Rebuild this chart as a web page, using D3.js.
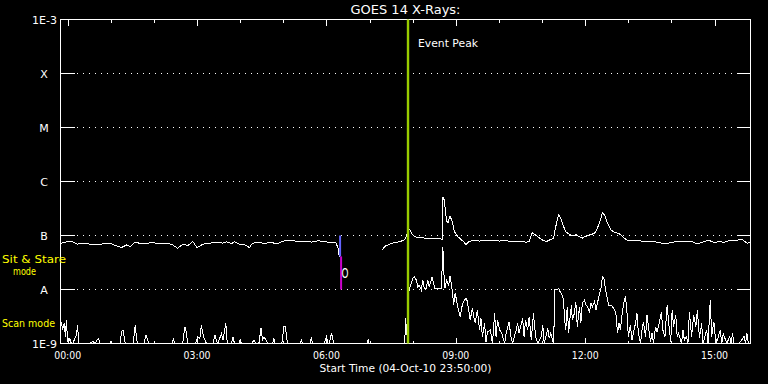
<!DOCTYPE html>
<html><head><meta charset="utf-8">
<script src="https://cdn.jsdelivr.net/npm/d3@7"></script>
<style>html,body{margin:0;padding:0;background:#000;overflow:hidden}svg{display:block}</style>
</head><body>
<svg id="chart" width="768" height="384"></svg>
<script>
// ---------------- data ----------------
const title = "GOES 14 X-Rays:";
const startTime = Date.UTC(2010, 9, 4, 23, 50);
const endTime = Date.UTC(2010, 9, 5, 15, 50);
const xLabel = "Start Time (04-Oct-10 23:50:00)";
const xTickLabels = ["00:00", "03:00", "06:00", "09:00", "12:00", "15:00"];
const yTickValues = [1e-9, 1e-8, 1e-7, 1e-6, 1e-5, 1e-4, 1e-3];
const yTickLabels = ["1E-9", "A", "B", "C", "M", "X", "1E-3"];
const modeLabels = ["Sit & Stare", "mode", "Scan mode"];
const eventLabel = "Event Peak";
const eventPeakMin = 483.5;            // minutes after start
const markMin = 389;                   // minutes after start
const markBlue = [1e-7, 4.1e-8];
const markMagenta = [4.1e-8, 1e-8];
const markLabel = "O";

// long channel (1-8 A): minutes after start, flux W/m^2 (null = gap)
const longT = [1,5,13,17,23,31,41,51,59,69,78,85,92,97,103,110,120,129,138,148,156,163,170,177,184,190,198,208,217,226,231,238,242,249,256,263,267,274,284,294,301,308,316,326,336,344,349,358,367,377,383,386,388,420,448,452,458,465,472,478,481,483,486,490,495,504,513,520,527,531,532,534,537,539,542,545,548,553,557,562,564,568,573,583,593,601,611,620,629,638,648,652,656,661,666,671,676,680,686,689,693,696,699,703,708,712,717,722,726,729,736,743,747,751,754,757,761,766,772,776,780,784,789,798,808,816,826,834,842,850,858,868,877,886,893,902,909,916,923,933,942,948,952,956,959];
const longFlux = [7.2e-8,7.4e-8,7.9e-8,7.7e-8,6.9e-8,7.2e-8,6.9e-8,6.7e-8,7.0e-8,7.2e-8,6.4e-8,6.0e-8,6.7e-8,6.2e-8,7.5e-8,7.2e-8,7.2e-8,7.4e-8,7.0e-8,7.2e-8,6.7e-8,5.8e-8,6.9e-8,6.5e-8,7.7e-8,6.0e-8,6.9e-8,7.2e-8,7.5e-8,7.2e-8,7.7e-8,7.0e-8,7.7e-8,6.9e-8,6.7e-8,6.0e-8,7.2e-8,7.4e-8,7.2e-8,7.4e-8,7.0e-8,7.7e-8,8.2e-8,7.9e-8,7.7e-8,7.9e-8,7.5e-8,8.0e-8,7.7e-8,7.4e-8,7.5e-8,5.9e-8,4.0e-8,null,5.5e-8,6.4e-8,6.9e-8,7.4e-8,7.7e-8,8.2e-8,9.4e-8,1.18e-7,1.30e-7,1.02e-7,9.3e-8,9.0e-8,8.9e-8,8.6e-8,8.9e-8,8.5e-8,5.2e-7,4.5e-7,1.9e-7,1.7e-7,2.3e-7,1.8e-7,1.18e-7,9.5e-8,8.5e-8,7.4e-8,6.7e-8,7.7e-8,8.0e-8,7.9e-8,8.2e-8,8.0e-8,7.9e-8,8.0e-8,7.7e-8,7.9e-8,7.5e-8,7.7e-8,1.13e-7,1.02e-7,9.1e-8,8.2e-8,7.7e-8,8.2e-8,8.9e-8,1.46e-7,2.4e-7,2.1e-7,1.57e-7,1.18e-7,1.05e-7,9.8e-8,1.04e-7,9.5e-8,8.9e-8,9.5e-8,1.02e-7,1.1e-7,1.36e-7,1.94e-7,2.6e-7,2.4e-7,1.7e-7,1.26e-7,1.13e-7,1.1e-7,1.02e-7,8.9e-8,8.2e-8,8.0e-8,7.9e-8,7.6e-8,7.7e-8,7.3e-8,7.0e-8,7.5e-8,7.7e-8,7.7e-8,7.9e-8,7.0e-8,7.5e-8,8.2e-8,7.4e-8,7.7e-8,7.5e-8,8.2e-8,8.2e-8,8.5e-8,7.7e-8,7.2e-8,7.4e-8];

// short channel (0.5-4 A): minutes after start, flux W/m^2
const shortT = [1,3,5,7,8,10,11,13,15,17,22,24,25,41,45,48,51,53,55,69,70,72,83,85,87,90,101,104,106,108,116,119,121,123,155,157,159,170,173,175,177,188,191,194,196,199,201,203,212,215,217,219,224,226,230,232,238,240,242,248,250,252,266,269,272,276,279,281,283,286,288,295,297,298,308,311,313,315,317,333,335,337,347,349,351,367,370,372,374,377,379,381,426,428,429,479,480,482,484,485,488,490,492,495,497,499,502,504,506,509,511,513,516,517,519,521,525,530,531,532,533,535,537,540,542,545,547,549,551,553,556,559,562,565,568,570,573,575,577,580,583,585,587,590,592,594,598,601,604,606,608,611,614,618,620,624,627,629,634,636,638,643,645,647,650,652,655,658,661,664,669,671,673,678,680,682,686,688,690,693,695,697,700,701,703,705,707,709,711,712,715,717,719,722,724,726,729,731,733,736,738,740,743,745,747,750,752,754,756,757,759,761,763,766,768,771,773,775,777,779,781,784,786,788,790,793,795,800,802,804,807,809,811,814,816,818,821,823,825,828,830,833,836,838,841,844,846,849,851,853,856,858,860,864,866,868,871,873,875,878,881,884,886,889,892,894,896,899,901,904,906,909,911,913,918,920,922,927,931,933,935,937,944,951,953,955,957,959];
const shortFlux = [2.53e-9,1.78e-9,2.37e-9,1.34e-9,2.72e-9,1.16e-9,1e-9,1.25e-9,1e-9,1e-9,1.44e-9,2.2e-9,1e-9,1e-9,1.09e-9,1e-9,1.16e-9,1.25e-9,1e-9,1e-9,1.07e-9,1e-9,1e-9,1.65e-9,1.78e-9,1e-9,1e-9,2.2e-9,1.16e-9,1e-9,1e-9,1.44e-9,1.2e-9,1e-9,1e-9,1.2e-9,1e-9,1e-9,2.05e-9,1.65e-9,1e-9,1e-9,1.34e-9,1.25e-9,2.2e-9,1.32e-9,1.16e-9,1e-9,1e-9,1.44e-9,1.12e-9,1e-9,1.54e-9,1.16e-9,2.37e-9,1e-9,1e-9,1.34e-9,1e-9,1e-9,1.2e-9,1e-9,1e-9,1.16e-9,1e-9,1e-9,1.91e-9,1.16e-9,1.32e-9,1.16e-9,1e-9,1e-9,1.25e-9,1e-9,1e-9,2.11e-9,2.05e-9,1.16e-9,1e-9,1e-9,1.16e-9,1e-9,1e-9,1.25e-9,1e-9,1e-9,1.34e-9,1e-9,1e-9,1.58e-9,1.16e-9,1e-9,1e-9,1.16e-9,1e-9,1e-9,3.0e-9,1.44e-9,7.6e-9,9.8e-9,1.30e-8,1.61e-8,1.73e-8,1.5e-8,1.13e-8,1.2e-8,9.8e-9,1.5e-8,1.05e-8,1.05e-8,1.5e-8,1.13e-8,1.5e-8,1.73e-8,1.3e-8,1.05e-8,1.05e-8,1.05e-8,2.65e-8,6.2e-8,2.3e-8,1.05e-8,1.5e-8,1.2e-8,1.78e-8,9.8e-9,5.16e-9,8.5e-9,6.4e-9,4.5e-9,3.14e-9,5.16e-9,6.4e-9,6.9e-9,4.17e-9,2.72e-9,4.5e-9,3.14e-9,2.37e-9,4.17e-9,1.78e-9,2.93e-9,1.34e-9,2.37e-9,1.07e-9,1.65e-9,1.78e-9,1e-9,3.62e-9,1.34e-9,2.72e-9,1.78e-9,1.54e-9,1e-9,1.54e-9,2.53e-9,1.25e-9,1e-9,1.78e-9,2.37e-9,1.54e-9,2.93e-9,1.34e-9,2.72e-9,1.78e-9,3.14e-9,1.16e-9,3.62e-9,1.34e-9,1e-9,1.34e-9,2.2e-9,1e-9,1.91e-9,1.25e-9,1.54e-9,1e-9,9.8e-9,9.8e-9,1.05e-8,9.1e-9,8.5e-9,6.4e-9,3.14e-9,1.78e-9,4.81e-9,1.54e-9,3.14e-9,5.16e-9,2.72e-9,3.62e-9,5.95e-9,2.05e-9,4.81e-9,2.37e-9,5.55e-9,6.4e-9,5.16e-9,4.81e-9,3.88e-9,5.55e-9,4.81e-9,5.95e-9,4.17e-9,5.55e-9,8.5e-9,1.05e-8,1.73e-8,1.61e-8,1.3e-8,9.1e-9,6.4e-9,5.16e-9,5.16e-9,4.81e-9,4.17e-9,3.37e-9,1.54e-9,2.37e-9,1.78e-9,3.14e-9,5.95e-9,7.4e-9,4.17e-9,1.34e-9,2.2e-9,1.16e-9,2.37e-9,3.62e-9,1.54e-9,1e-9,1.78e-9,2.53e-9,1.34e-9,3.37e-9,2.05e-9,1.07e-9,1.54e-9,1e-9,2.05e-9,1.65e-9,2.37e-9,3.88e-9,1.78e-9,1.34e-9,5.16e-9,2.53e-9,1.07e-9,4.17e-9,2.05e-9,3.37e-9,1.34e-9,1.54e-9,1e-9,1.78e-9,1.16e-9,1.34e-9,1e-9,3.88e-9,1.34e-9,3.37e-9,2.05e-9,4.17e-9,1.25e-9,2.37e-9,1e-9,1.25e-9,1.78e-9,1e-9,6.4e-9,1.34e-9,2.53e-9,1.34e-9,1.07e-9,1.78e-9,1e-9,1.54e-9,1e-9,1.34e-9,1e-9,1.54e-9,1e-9,1e-9,1.34e-9,1e-9,1.54e-9,1e-9,1e-9];

// ---------------- chart ----------------
(function () {
const FONT = "DejaVu Sans, sans-serif";
const svg = d3.select("#chart");
svg.append("rect").attr("width", 768).attr("height", 384).attr("fill", "#000");

const pL = 60.5, pR = 750.5, pT = 19.5, pB = 343.5;
const x = d3.scaleUtc().domain([new Date(startTime), new Date(endTime)]).range([pL, pR]);
const y = d3.scaleLog().domain([1e-9, 1e-3]).range([pB, pT]);
const tm = m => new Date(startTime + m * 60000);

const g = svg.append("g").attr("shape-rendering", "crispEdges");

// dotted class lines + inner ticks
yTickValues.forEach((v, i) => {
  if (i === 0 || i === yTickValues.length - 1) return;
  const yy = y(v);
  g.append("line").attr("x1", pL).attr("x2", pL + 14).attr("y1", yy).attr("y2", yy).attr("stroke", "#fff");
  g.append("line").attr("x1", pR - 14).attr("x2", pR).attr("y1", yy).attr("y2", yy).attr("stroke", "#fff");
  g.append("line").attr("x1", pL + 16).attr("x2", pR - 16).attr("y1", yy).attr("y2", yy)
    .attr("stroke", "#fff").attr("stroke-dasharray", "1 5");
});

// y labels
yTickValues.forEach((v, i) => {
  const lab = yTickLabels[i];
  const isNum = lab.length > 1;
  svg.append("text").attr("x", isNum ? 57 : 44).attr("y", y(v) + 4.5)
    .attr("text-anchor", isNum ? "end" : "middle")
    .attr("fill", "#fff").attr("font-family", FONT).attr("font-size", 11)
    .text(lab);
});

// hourly ticks top & bottom
const hours = d3.utcHour.range(new Date(startTime), new Date(endTime));
hours.forEach(h => {
  const xx = Math.round(x(h)) + 0.5;
  const len = h.getUTCHours() % 3 === 0 ? 6 : 3;
  g.append("line").attr("x1", xx).attr("x2", xx).attr("y1", pT).attr("y2", pT + len).attr("stroke", "#fff");
  g.append("line").attr("x1", xx).attr("x2", xx).attr("y1", pB).attr("y2", pB - len).attr("stroke", "#fff");
});

// x tick labels
xTickLabels.forEach(lab => {
  const [hh, mm] = lab.split(":").map(Number);
  const t = new Date(Date.UTC(2010, 9, 5, hh, mm));
  svg.append("text").attr("x", x(t)).attr("y", 358.5).attr("text-anchor", "middle")
    .attr("fill", "#fff").attr("font-family", FONT).attr("font-size", 10)
    .attr("textLength", 27).attr("lengthAdjust", "spacingAndGlyphs").text(lab);
});

// axis title, title
svg.append("text").attr("x", (pL + pR) / 2).attr("y", 372).attr("text-anchor", "middle")
  .attr("fill", "#fff").attr("font-family", FONT).attr("font-size", 10)
  .attr("textLength", 172).attr("lengthAdjust", "spacingAndGlyphs").text(xLabel);
svg.append("text").attr("x", (pL + pR) / 2).attr("y", 14).attr("text-anchor", "middle")
  .attr("fill", "#fff").attr("font-family", FONT).attr("font-size", 12)
  .attr("textLength", 110).attr("lengthAdjust", "spacingAndGlyphs").text(title);

// mode labels
const yel = "#ffff00";
svg.append("text").attr("x", 2).attr("y", 262.5).attr("fill", yel).attr("font-family", FONT).attr("font-size", 10.5)
  .attr("textLength", 64).attr("lengthAdjust", "spacingAndGlyphs").text(modeLabels[0]);
svg.append("text").attr("x", 13).attr("y", 275).attr("fill", yel).attr("font-family", FONT).attr("font-size", 10)
  .attr("textLength", 23).attr("lengthAdjust", "spacingAndGlyphs").text(modeLabels[1]);
svg.append("text").attr("x", 2).attr("y", 327).attr("fill", yel).attr("font-family", FONT).attr("font-size", 10.5)
  .attr("textLength", 53).attr("lengthAdjust", "spacingAndGlyphs").text(modeLabels[2]);

// clip
svg.append("clipPath").attr("id", "clip").append("rect")
  .attr("x", pL).attr("y", pT).attr("width", pR - pL).attr("height", pB - pT);

const line = d3.line().defined(d => d[1] != null).x(d => x(tm(d[0]))).y(d => y(d[1]));
const longData = longT.map((t, i) => [t, longFlux[i]]);
const shortData = shortT.map((t, i) => [t, shortFlux[i]]);
const plot = svg.append("g").attr("clip-path", "url(#clip)");
plot.append("path").attr("d", line(shortData)).attr("fill", "none").attr("stroke", "#fff")
  .attr("stroke-width", 1).attr("shape-rendering", "crispEdges");
plot.append("path").attr("d", line(longData)).attr("fill", "none").attr("stroke", "#fff")
  .attr("stroke-width", 1).attr("shape-rendering", "crispEdges");

// blue / magenta mark
const mx = x(tm(markMin));
svg.append("line").attr("x1", mx).attr("x2", mx).attr("y1", y(markBlue[0])).attr("y2", y(markBlue[1]))
  .attr("stroke", "#6464ff").attr("stroke-width", 2);
svg.append("line").attr("x1", mx + 1).attr("x2", mx + 1).attr("y1", y(markMagenta[0])).attr("y2", y(markMagenta[1]))
  .attr("stroke", "#cc00cc").attr("stroke-width", 2);
svg.append("text").attr("x", mx + 1.5).attr("y", 277.5).attr("fill", "#fff").attr("font-family", FONT)
  .attr("font-size", 14).attr("textLength", 7).attr("lengthAdjust", "spacingAndGlyphs").text(markLabel);

// event peak line
const ex = x(tm(eventPeakMin));
svg.append("line").attr("x1", ex).attr("x2", ex).attr("y1", pT).attr("y2", pB)
  .attr("stroke", "#99cc00").attr("stroke-width", 2.4);
svg.append("text").attr("x", ex + 10).attr("y", 47).attr("fill", "#fff").attr("font-family", FONT)
  .attr("font-size", 11).attr("textLength", 60).attr("lengthAdjust", "spacingAndGlyphs").text(eventLabel);

// frame
g.append("rect").attr("x", pL).attr("y", pT).attr("width", pR - pL).attr("height", pB - pT)
  .attr("fill", "none").attr("stroke", "#fff");
})();
</script>
</body></html>
